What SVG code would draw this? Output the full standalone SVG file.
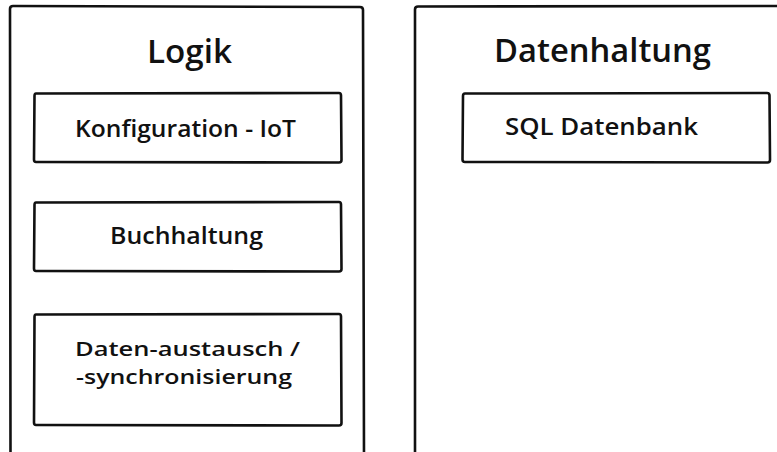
<svg xmlns="http://www.w3.org/2000/svg" width="777" height="452" viewBox="0 0 777 452">
<style>
.frame{fill:none;stroke:#111;stroke-width:2.6;stroke-linejoin:round;stroke-linecap:round}
.box{fill:#fff;stroke:#111;stroke-width:2.6;stroke-linejoin:round;stroke-linecap:round}
.title{font-family:"Open Sans",Lato,sans-serif;font-weight:600;font-size:33px;fill:#111}
.lbl{font-family:"Open Sans",Lato,sans-serif;font-weight:600;font-size:23px;fill:#111}
.lbl2{font-family:"Open Sans",Lato,sans-serif;font-weight:600;font-size:20.5px;fill:#111}
</style>
<rect width="777" height="452" fill="#fff"/>
<g id="logik">
<path class="frame" d="M10.5 460 L10 9 Q10 6 13 6 L360 7 Q363 7 363 10 L364 460"/>
<text class="title" x="147" y="63" textLength="85" lengthAdjust="spacingAndGlyphs">Logik</text>
</g>
<g id="datenhaltung">
<path class="frame" d="M415 460 L415 9.5 Q415 6.5 418 6.5 L790 6"/>
<text class="title" x="494" y="62" textLength="217" lengthAdjust="spacingAndGlyphs">Datenhaltung</text>
</g>
<g id="konfiguration">
<path class="box" d="M36 93.5 L339 93 Q341 93 341 95.5 L341.5 160 Q341.5 162.5 339 162.5 L36 162 Q34 162 34 159.5 L34.5 96 Q34.5 93.5 36 93.5 Z"/>
<text class="lbl" x="75" y="137" textLength="221" lengthAdjust="spacingAndGlyphs">Konfiguration - IoT</text>
</g>
<g id="buchhaltung">
<path class="box" d="M36 202.5 L339 202 Q341 202 341 204.5 L341.5 269 Q341.5 271.5 339 271.5 L36 271 Q34 271 34 268.5 L34.5 205 Q34.5 202.5 36 202.5 Z"/>
<text class="lbl" x="110" y="244" textLength="153" lengthAdjust="spacingAndGlyphs">Buchhaltung</text>
</g>
<g id="datenaustausch">
<path class="box" d="M36 314.5 L339 314 Q341 314 341 316.5 L341.5 423 Q341.5 425.5 339 425.5 L36 425 Q34 425 34 422.5 L34.5 317 Q34.5 314.5 36 314.5 Z"/>
<text class="lbl2" x="75" y="356" textLength="225" lengthAdjust="spacingAndGlyphs">Daten-austausch /</text>
<text class="lbl2" x="76" y="384" textLength="216" lengthAdjust="spacingAndGlyphs">-synchronisierung</text>
</g>
<g id="sql">
<path class="box" d="M465 93.5 L767 93 Q769.5 93 769.5 95.5 L770 160 Q770 162.5 767.5 162.5 L465 162 Q462.5 162 462.5 159.5 L463 96 Q463 93.5 465 93.5 Z"/>
<text class="lbl" x="505" y="135" textLength="193" lengthAdjust="spacingAndGlyphs">SQL Datenbank</text>
</g>
<g id="connectors"/>
</svg>
